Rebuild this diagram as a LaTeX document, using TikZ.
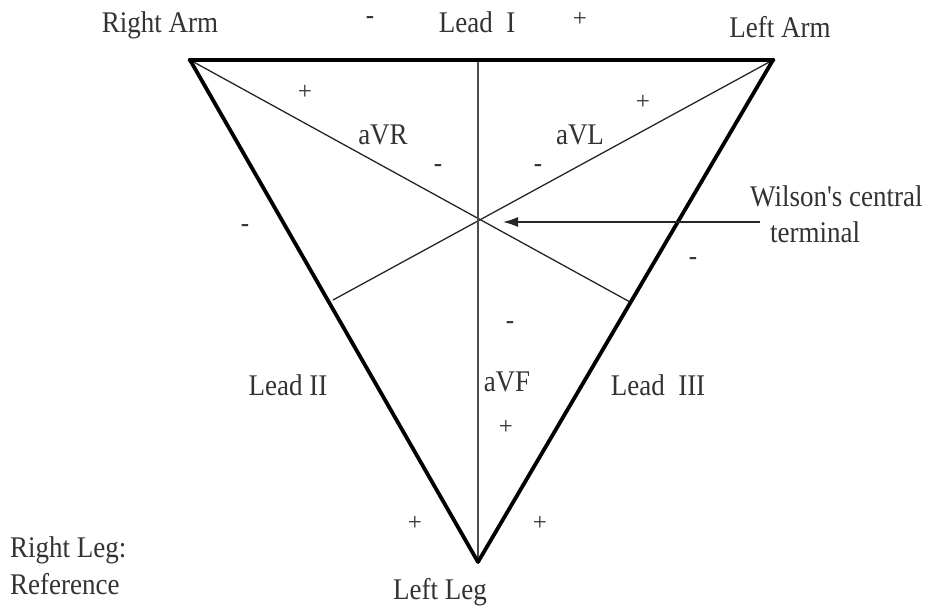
\documentclass[tikz,border=0pt]{standalone}
\usepackage{fontspec}
\setmainfont{Liberation Serif}
\usetikzlibrary{arrows.meta}
\newcommand{\cnd}[1]{\scalebox{0.9}[1]{#1}}
\begin{document}
\begin{tikzpicture}[x=1pt,y=-1pt,
  lbl/.style={inner sep=0pt,font=\fontsize{30}{32}\selectfont,text=black!80},
  sgn/.style={inner sep=0pt,font=\fontsize{25}{27}\selectfont,text=black!80},
  side/.style={line width=3.8pt,line cap=round,line join=round},
  thin/.style={line width=1.3pt,black!85}]
\useasboundingbox (0,0) rectangle (930,612);
\fill[white] (0,0) rectangle (930,612);
\coordinate (RA) at (190,60);
\coordinate (LA) at (773,60);
\coordinate (LL) at (478,562);
\coordinate (C) at (478,222);
\coordinate (T) at (478,60);
\coordinate (ML) at (333,300);
\coordinate (MR) at (630,302);
\coordinate (AS) at (760,222);
\coordinate (AE) at (503,222);
% thin lines
\draw[thin] (RA) -- (MR);
\draw[thin] (LA) -- (ML);
\draw[thin,black!70] (T) -- (LL);
% triangle
\draw[side,line width=4.6pt] (RA) -- (LA);
\draw[side] (RA) -- (LL) -- (LA);
% arrow
\draw[thin,-{Latex[length=15pt,width=10pt]}] (AS) -- (AE);
% labels
\node[lbl] (ra) at (160,25) {\cnd{Right Arm}};
\node[lbl] (la) at (780,27) {\cnd{Left Arm}};
\node[lbl] (l1) at (477,22) {\cnd{Lead\ \ I}};
\node[sgn] (s1) at (370,20) {\textbf{-}};
\node[sgn] (s2) at (580,19) {+};
\node[sgn] (s3) at (305,92) {+};
\node[lbl] (avr) at (383,135) {\cnd{aVR}};
\node[sgn] (s4) at (438,168) {\textbf{-}};
\node[lbl] (avl) at (580,135) {\cnd{aVL}};
\node[sgn] (s5) at (643,102) {+};
\node[sgn] (s6) at (538,168) {\textbf{-}};
\node[sgn] (s7) at (245,228) {\textbf{-}};
\node[lbl,anchor=west] (w1) at (750,196) {\cnd{Wilson\textquotesingle s central}};
\node[lbl,anchor=west] (w2) at (770,232) {\cnd{terminal}};
\node[sgn] (s8) at (693,261) {\textbf{-}};
\node[sgn] (s9) at (510,325) {\textbf{-}};
\node[lbl] (l2) at (288,385) {\cnd{Lead II}};
\node[lbl] (avf) at (507,382) {\cnd{aVF}};
\node[lbl] (l3) at (658,385) {\cnd{Lead\ \ III}};
\node[sgn] (s10) at (506,427) {+};
\node[sgn] (s11) at (415,523) {+};
\node[sgn] (s12) at (540,523) {+};
\node[lbl,anchor=west] (rl1) at (10,550) {\cnd{Right Leg:}};
\node[lbl,anchor=west] (rl2) at (10,584) {\cnd{Reference}};
\node[lbl] (ll) at (440,592) {\cnd{Left Leg}};
\end{tikzpicture}
\end{document}
